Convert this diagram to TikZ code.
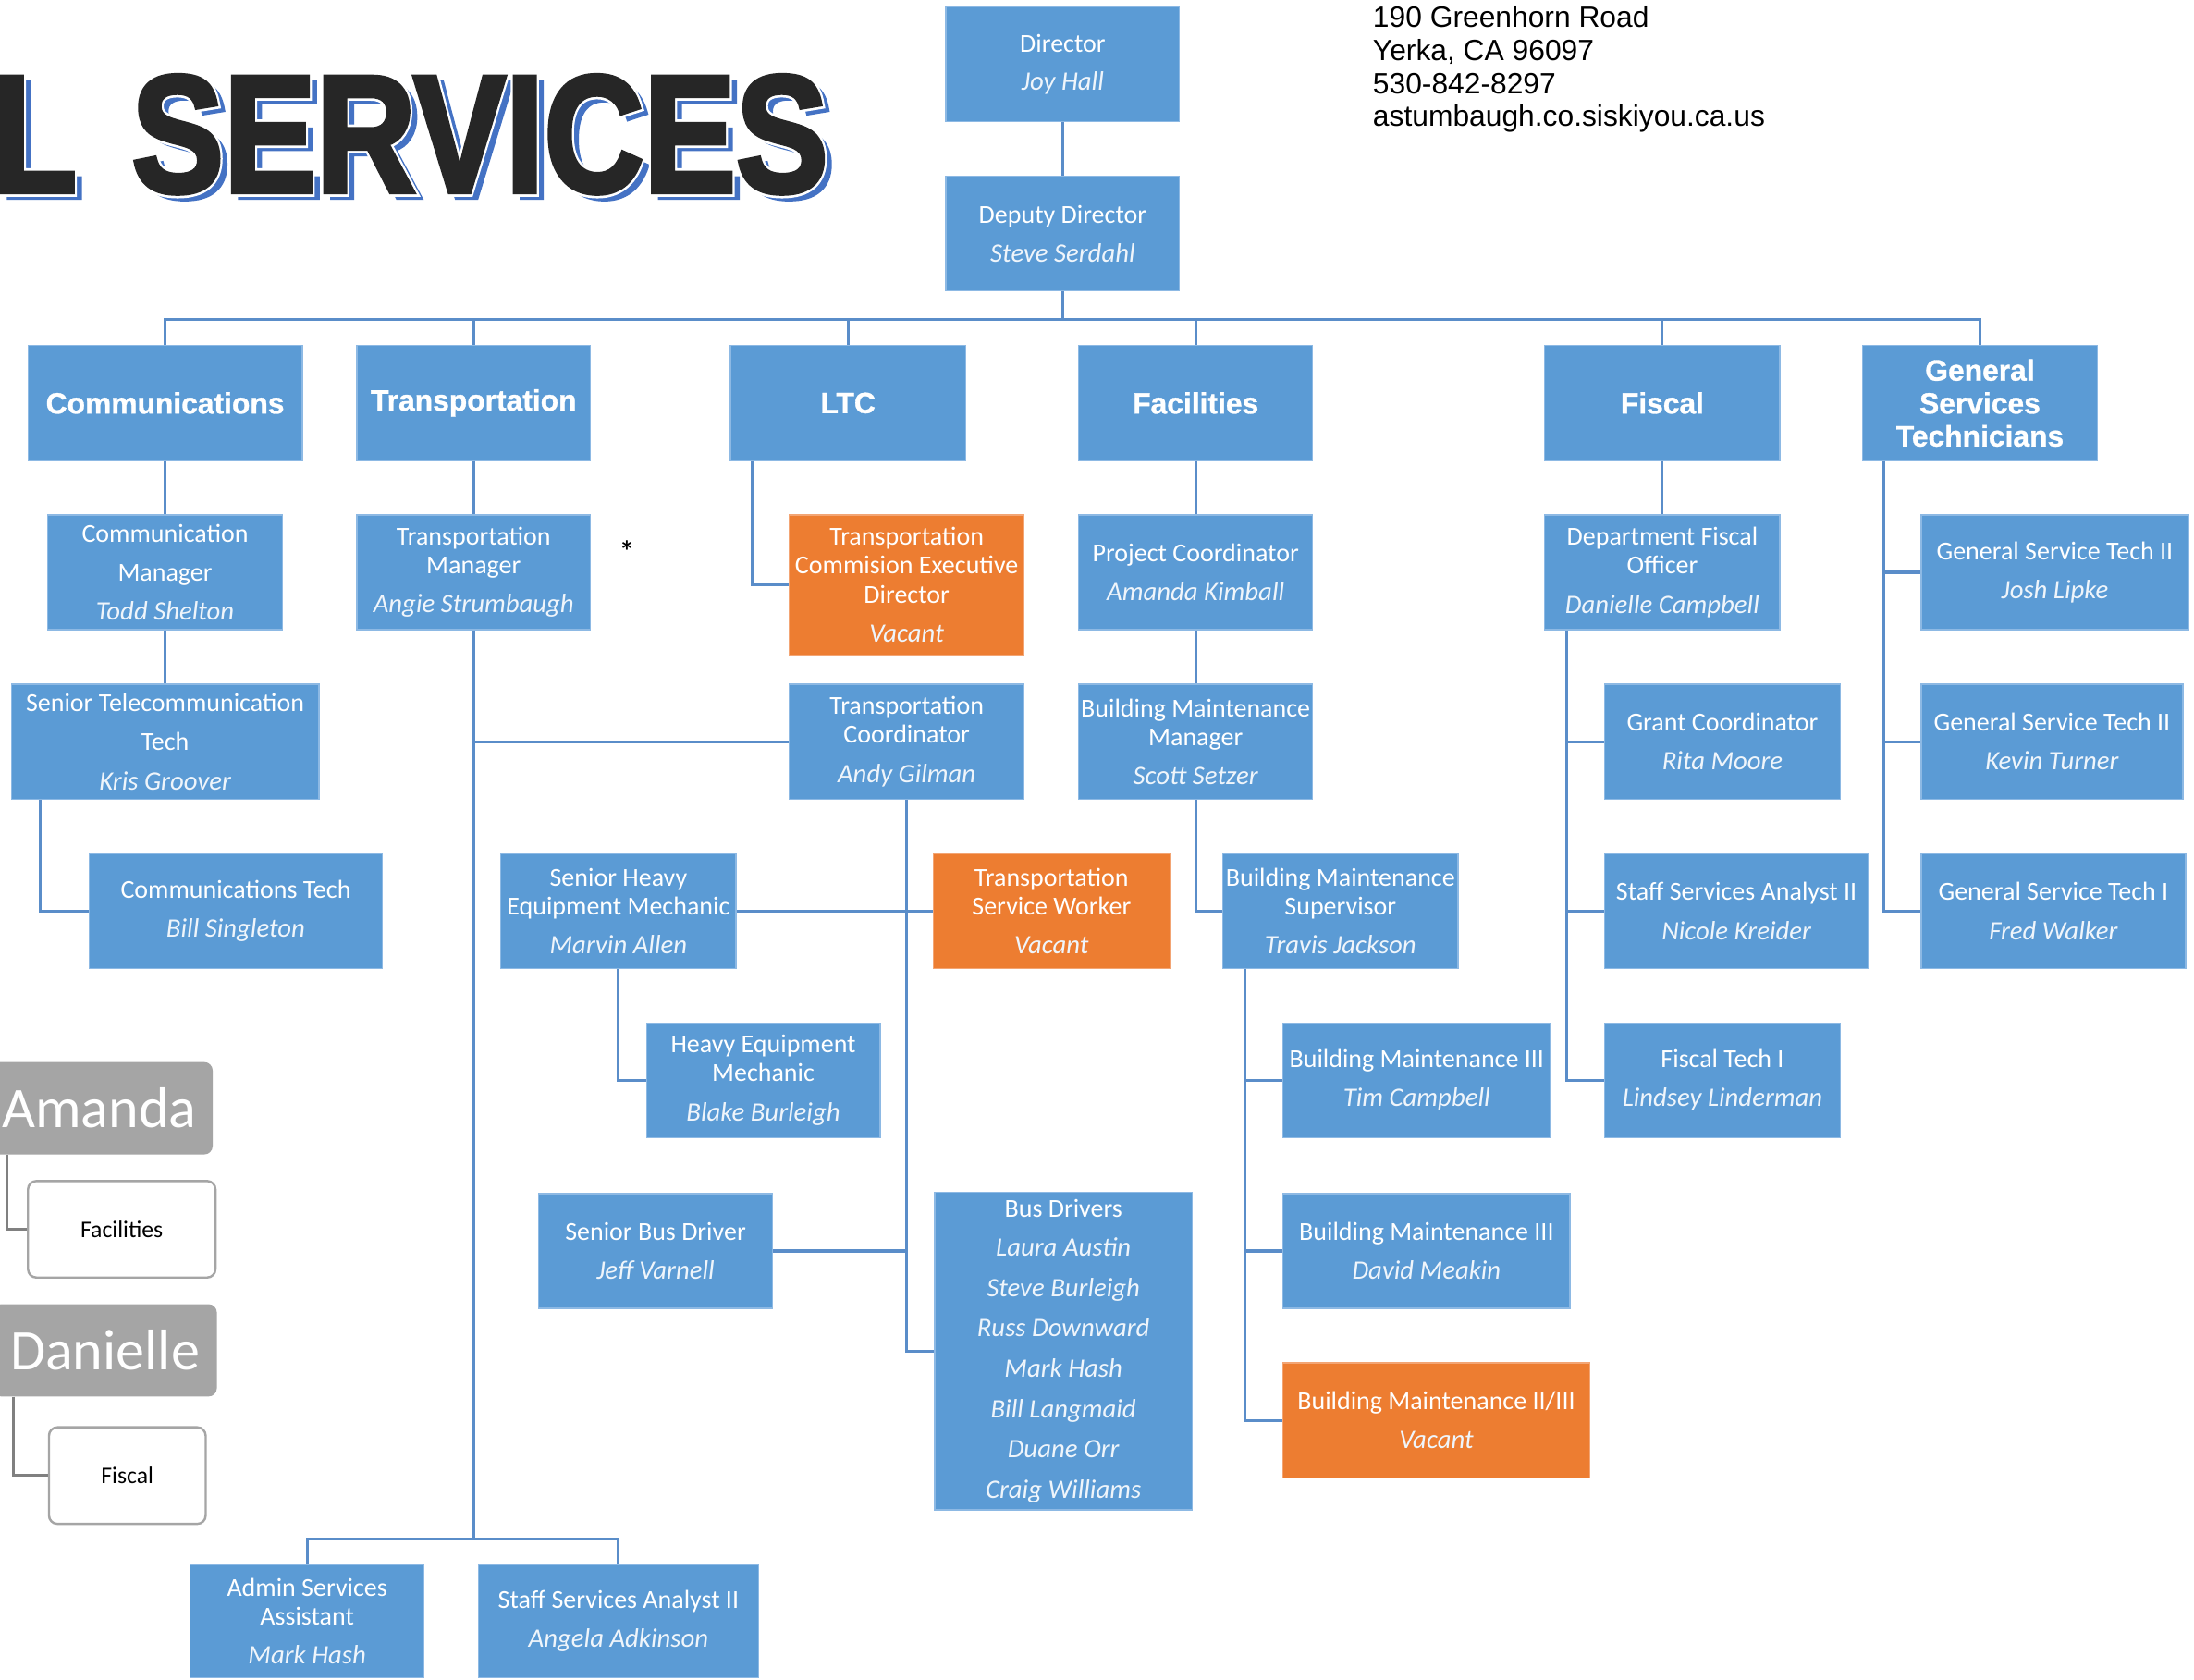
\documentclass[tikz,border=0pt]{standalone}
\usepackage{fontspec}
\setmainfont{Carlito}
\newfontfamily\addrfont{Liberation Sans}
\newfontfamily\headfont{Liberation Sans}[FakeBold=3]
\newfontfamily\headwhite{Liberation Sans}[FakeBold=6]
\newfontfamily\deptfont{Liberation Sans}[FakeBold=1]
\definecolor{boxblue}{HTML}{5B9BD5}
\definecolor{boxedge}{HTML}{8DB9E4}
\definecolor{boxorange}{HTML}{ED7D31}
\definecolor{orangeedge}{HTML}{F3A574}
\definecolor{linecol}{HTML}{5A8DC9}
\definecolor{hdrblue}{HTML}{4472C4}
\definecolor{hdrblack}{HTML}{262626}
\definecolor{legray}{HTML}{A5A5A5}
\definecolor{legline}{HTML}{808080}
\newcommand\ttlf{\fontsize{18.5}{20.5}\selectfont}
\newcommand\nmf{\fontsize{19}{20.5}\selectfont\itshape\color{white!90!boxblue}}
\newcommand\deptf{\deptfont\bfseries\fontsize{21}{23.5}\selectfont}
\newcommand\hdrtxt{L\kern14pt\ SERVICES}
\newcommand\hdrsize{\bfseries\fontsize{119}{119}\selectfont}
\tikzset{
  posbox/.style={rectangle, fill=boxblue, draw=boxedge, line width=0.8pt, text=white,
    align=center, inner sep=0pt, font=\ttlf},
  vacbox/.style={posbox, fill=boxorange, draw=orangeedge},
  deptbox/.style={posbox, font=\deptf},
  ln/.style={draw=linecol, line width=2pt},
  gln/.style={draw=legline, line width=2pt},
  leghead/.style={rectangle, rounded corners=6pt, fill=legray, text=white, inner sep=0pt,
    font=\fontsize{41}{45}\selectfont},
  legbox/.style={rectangle, rounded corners=6pt, fill=white, draw=legray, line width=1.6pt,
    text=black, inner sep=0pt, font=\fontsize{17}{20}\selectfont}
}
% \pb[style]{name}{x1}{y1}{x2}{y2}{text}
\newcommand\pb[7][posbox]{%
  \node[#1, minimum width={(#5)-(#3)}, minimum height={(#6)-(#4)}] (#2)
    at ({((#3)+(#5))/2},{((#4)+(#6))/2}) {#7};}
\begin{document}
\begin{tikzpicture}[x=1pt,y=-1pt]
\useasboundingbox (0,0) rectangle (1568,1200);
\fill[white] (0,0) rectangle (1568,1200);
\clip (0,0) rectangle (1568,1200);

% header (shadow, white outline and black letters in one text)
\node[anchor=base east, xscale=0.83, inner sep=0pt] (hdr) at (592,137)
  {\rlap{\hspace{6pt}\raisebox{-4pt}{\headfont\hdrsize\color{hdrblue}\hdrtxt}}%
   \rlap{\headwhite\hdrsize\color{white}\hdrtxt}%
   {\headfont\hdrsize\color{hdrblack}\hdrtxt}};

% address
\node[anchor=north west, inner sep=0pt, align=left,
  font=\addrfont\fontsize{21}{23.7}\selectfont] (addr) at (981,4)
  {190 Greenhorn Road\\Yerka, CA 96097\\530-842-8297\\astumbaugh.co.siskiyou.ca.us};

% top
\pb{dir}{676}{5}{843}{87}{Director\\[6.5pt]{\nmf Joy Hall}}
\pb{dep}{676}{126}{843}{208}{Deputy Director\\[7.5pt]{\nmf Steve Serdahl}}

% level 1
\pb[deptbox]{comm}{20}{247}{216}{329}{Communications}
\pb[deptbox]{trans}{255}{247}{422}{329}{Transportation}
\pb[deptbox]{ltc}{522}{247}{690}{329}{LTC}
\pb[deptbox]{fac}{771}{247}{938}{329}{Facilities}
\pb[deptbox]{fis}{1104}{247}{1272}{329}{Fiscal}
\pb[deptbox]{gst}{1331}{247}{1499}{329}{General\\Services\\Technicians}

% level 2
\pb{cm}{34}{368}{202}{450}{Communication\\[7.5pt]Manager\\[7pt]{\nmf Todd Shelton}}
\pb{tm}{255}{368}{422}{450}{Transportation\\Manager\\[7.5pt]{\nmf Angie Strumbaugh}}
\pb[vacbox]{tced}{564}{368}{732}{468}{Transportation\\Commision Executive\\Director\\[7.5pt]{\nmf Vacant}}
\pb{pc}{771}{368}{938}{450}{Project Coordinator\\[7pt]{\nmf Amanda Kimball}}
\pb{dfo}{1104}{368}{1272}{450}{Department Fiscal\\Officer\\[7.5pt]{\nmf Danielle Campbell}}
\pb{gsta}{1373}{368}{1564}{450}{General Service Tech II\\[7pt]{\nmf Josh Lipke}}
\node[font=\bfseries\fontsize{21}{24}\selectfont, inner sep=0pt] (star) at (448,394) {*};

% level 3
\pb{stt}{8}{489}{228}{571}{Senior Telecommunication\\[7.5pt]Tech\\[7.5pt]{\nmf Kris Groover}}
\pb{tc}{564}{489}{732}{571}{Transportation\\Coordinator\\[7.5pt]{\nmf Andy Gilman}}
\pb{bmm}{771}{489}{938}{571}{Building Maintenance\\Manager\\[7.5pt]{\nmf Scott Setzer}}
\pb{gc}{1147}{489}{1315}{571}{Grant Coordinator\\[7.5pt]{\nmf Rita Moore}}
\pb{gstb}{1373}{489}{1560}{571}{General Service Tech II\\[7.5pt]{\nmf Kevin Turner}}

% level 4
\pb{ct}{64}{610}{273}{692}{Communications Tech\\[7.5pt]{\nmf Bill Singleton}}
\pb{shem}{358}{610}{526}{692}{Senior Heavy\\Equipment Mechanic\\[7.5pt]{\nmf Marvin Allen}}
\pb[vacbox]{tsw}{667}{610}{836}{692}{Transportation\\Service Worker\\[7.5pt]{\nmf Vacant}}
\pb{bms}{874}{610}{1042}{692}{Building Maintenance\\Supervisor\\[7.5pt]{\nmf Travis Jackson}}
\pb{ssan}{1147}{610}{1335}{692}{Staff Services Analyst II\\[7.5pt]{\nmf Nicole Kreider}}
\pb{gstc}{1373}{610}{1562}{692}{General Service Tech I\\[7.5pt]{\nmf Fred Walker}}

% level 5
\pb{hem}{462}{731}{629}{813}{Heavy Equipment\\Mechanic\\[7.5pt]{\nmf Blake Burleigh}}
\pb{bmtha}{917}{731}{1108}{813}{Building Maintenance III\\[7.5pt]{\nmf Tim Campbell}}
\pb{fto}{1147}{731}{1315}{813}{Fiscal Tech I\\[7.5pt]{\nmf Lindsey Linderman}}

% level 6
\pb{sbd}{385}{853}{552}{935}{Senior Bus Driver\\[7pt]{\nmf Jeff Varnell}}
\pb{bd}{668}{852}{852}{1079}{Bus Drivers\\[7.5pt]{\nmf Laura Austin}\\[8.3pt]{\nmf Steve Burleigh}\\[8.3pt]{\nmf Russ Downward}\\[8.3pt]{\nmf Mark Hash}\\[8.3pt]{\nmf Bill Langmaid}\\[8.3pt]{\nmf Duane Orr}\\[8.3pt]{\nmf Craig Williams}}
\pb{bmthb}{917}{853}{1122}{935}{Building Maintenance III\\[7pt]{\nmf David Meakin}}
\pb[vacbox]{bmtt}{917}{974}{1136}{1056}{Building Maintenance II/III\\[7pt]{\nmf Vacant}}

% bottom
\pb{asa}{136}{1118}{303}{1199}{Admin Services\\Assistant\\[7.5pt]{\nmf Mark Hash}}
\pb{ssab}{342}{1118}{542}{1199}{Staff Services Analyst II\\[7.5pt]{\nmf Angela Adkinson}}

% legend
\node[leghead, minimum width=162, minimum height=66] (amanda) at (71,792) {Amanda};
\node[legbox, minimum width=134, minimum height=69] (lfac) at (87,878.5) {Facilities};
\node[leghead, minimum width=160, minimum height=66] (danielle) at (75,965) {Danielle};
\node[legbox, minimum width=112, minimum height=69] (lfis) at (91,1054.5) {Fiscal};
\coordinate (amv) at ([xshift=15pt]amanda.south west);
\coordinate (dav) at ([xshift=15pt]danielle.south west);
\draw[gln] (amv) |- (lfac.west);
\draw[gln] (dav) |- (lfis.west);

% connectors
\coordinate (bus) at (0,228);
\coordinate (tbot) at (339,1100);
\draw[ln] (dir.south) -- (dep.north);
\draw[ln] (dep.south) -- (dep.south |- bus);
\draw[ln] (comm.north) -- (comm.north |- bus) -- (gst.north |- bus) -- (gst.north);
\foreach \n in {trans,ltc,fac,fis} \draw[ln] (\n.north) -- (\n.north |- bus);

% communications
\draw[ln] (comm.south) -- (cm.north);
\draw[ln] (cm.south) -- (stt.north);
\coordinate (sttv) at ([xshift=21pt]stt.south west);
\draw[ln] (sttv) |- (ct.west);

% transportation
\draw[ln] (trans.south) -- (tm.north);
\draw[ln] (tm.south) -- (tm.south |- tbot);
\draw[ln] (tm.south |- tc.west) -- (tc.west);
\draw[ln] (asa.north) -- (asa.north |- tbot) -- (ssab.north |- tbot) -- (ssab.north);

% LTC
\coordinate (ltcv) at ([xshift=16pt]ltc.south west);
\draw[ln] (ltcv) |- (tced.west);
\draw[ln] (tc.south) |- (bd.west);
\draw[ln] (shem.east) -- (tsw.west);
\draw[ln] (sbd.east) -- (sbd.east -| tc.south);
\draw[ln] (shem.south) |- (hem.west);

% facilities
\draw[ln] (fac.south) -- (pc.north);
\draw[ln] (pc.south) -- (bmm.north);
\draw[ln] (bmm.south) |- (bms.west);
\coordinate (bmsv) at ([xshift=16pt]bms.south west);
\draw[ln] (bmsv) |- (bmtt.west);
\draw[ln] (bmsv |- bmtha.west) -- (bmtha.west);
\draw[ln] (bmsv |- bmthb.west) -- (bmthb.west);

% fiscal
\draw[ln] (fis.south) -- (dfo.north);
\coordinate (dfov) at ([xshift=16pt]dfo.south west);
\draw[ln] (dfov) |- (fto.west);
\draw[ln] (dfov |- gc.west) -- (gc.west);
\draw[ln] (dfov |- ssan.west) -- (ssan.west);

% general services
\coordinate (gstv) at ([xshift=16pt]gst.south west);
\draw[ln] (gstv) |- (gstc.west);
\draw[ln] (gstv |- gsta.west) -- (gsta.west);
\draw[ln] (gstv |- gstb.west) -- (gstb.west);
\end{tikzpicture}
\end{document}
